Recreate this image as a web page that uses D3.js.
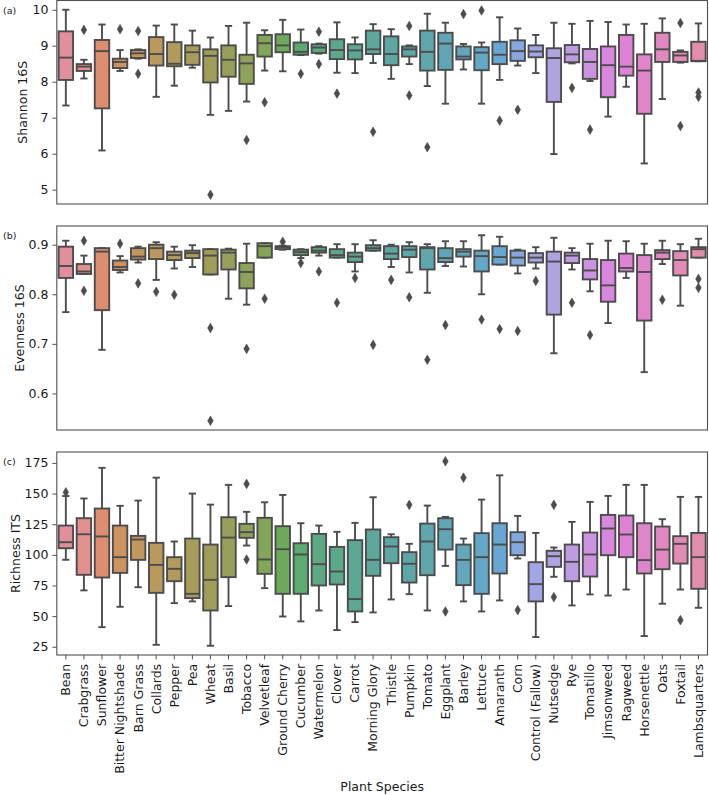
<!DOCTYPE html>
<html>
<head>
<meta charset="utf-8">
<script src="https://cdn.jsdelivr.net/npm/d3@7"></script>
<style>
  body { margin: 0; background: #fff; }
  svg text { font-family: "DejaVu Sans", sans-serif; fill: #1a1a1a; }
</style>
</head>
<body>
<svg id="chart" width="709" height="795"></svg>
<script>
const categories = ['Bean', 'Crabgrass', 'Sunflower', 'Bitter Nightshade', 'Barn Grass', 'Collards', 'Pepper', 'Pea',
  'Wheat', 'Basil', 'Tobacco', 'Velvetleaf', 'Ground Cherry', 'Cucumber', 'Watermelon', 'Clover', 'Carrot',
  'Morning Glory', 'Thistle', 'Pumpkin', 'Tomato', 'Eggplant', 'Barley', 'Lettuce', 'Amaranth', 'Corn',
  'Control (Fallow)', 'Nutsedge', 'Rye', 'Tomatillo', 'Jimsonweed', 'Ragweed', 'Horsenettle', 'Oats', 'Foxtail',
  'Lambsquarters']

// [whisker low, q1, median, q3, whisker high] per category
const shannonStats = [
  [7.34, 8.05, 8.67, 9.40, 10.0], [8.09, 8.30, 8.42, 8.49, 8.61], [6.09, 7.26, 8.85, 9.16, 9.59],
  [8.30, 8.38, 8.55, 8.64, 8.88], [8.64, 8.66, 8.79, 8.88, 8.90], [7.58, 8.45, 8.77, 9.24, 9.56],
  [7.89, 8.43, 8.50, 9.10, 9.59], [8.39, 8.47, 8.82, 9.01, 9.42], [7.08, 7.98, 8.72, 8.90, 9.23],
  [7.19, 8.14, 8.61, 9.01, 9.55], [7.45, 7.94, 8.51, 8.75, 9.64], [8.31, 8.70, 9.07, 9.30, 9.43],
  [8.29, 8.82, 9.01, 9.32, 9.72], [8.74, 8.75, 8.83, 9.09, 9.45], [8.78, 8.80, 8.95, 9.04, 9.06],
  [8.25, 8.63, 8.88, 9.18, 9.65], [8.24, 8.62, 8.87, 9.04, 9.23], [8.52, 8.77, 8.90, 9.42, 9.60],
  [8.08, 8.46, 8.77, 9.26, 9.46], [8.49, 8.70, 8.90, 8.98, 9.01], [7.88, 8.31, 8.83, 9.42, 9.89],
  [7.39, 8.33, 9.06, 9.36, 9.64], [8.34, 8.62, 8.70, 8.98, 9.05], [7.39, 8.32, 8.81, 8.96, 9.09],
  [8.05, 8.49, 8.75, 9.11, 9.79], [8.45, 8.58, 8.85, 9.15, 9.48], [8.24, 8.68, 8.84, 9.01, 9.30],
  [5.99, 7.44, 8.66, 8.93, 9.64], [8.51, 8.54, 8.76, 9.02, 9.61], [8.02, 8.08, 8.55, 8.91, 9.69],
  [7.03, 7.57, 8.46, 8.98, 9.66], [7.86, 8.17, 8.42, 9.30, 9.59], [5.73, 7.11, 8.31, 8.76, 9.61],
  [7.52, 8.55, 8.90, 9.36, 9.76], [8.53, 8.55, 8.73, 8.83, 8.87], [8.57, 8.57, 8.58, 9.11, 9.62]
]
const shannonOutliers = [
  [], [9.44], [], [9.46], [9.41, 8.22], [], [], [], [4.86], [], [6.38], [7.43], [], [8.22], [9.39, 8.49],
  [7.67], [], [6.61], [], [9.55, 7.62], [6.18], [], [9.88], [9.98], [6.92], [7.22], [], [], [7.83], [6.67],
  [], [], [], [], [9.63, 6.77], [7.70, 7.58]
]

const evennessStats = [
  [0.764, 0.833, 0.857, 0.896, 0.908], [0.841, 0.841, 0.846, 0.861, 0.878], [0.688, 0.768, 0.886, 0.893, 0.893],
  [0.844, 0.849, 0.855, 0.868, 0.877], [0.864, 0.870, 0.876, 0.893, 0.896], [0.829, 0.871, 0.893, 0.900, 0.905],
  [0.852, 0.869, 0.879, 0.886, 0.896], [0.855, 0.873, 0.883, 0.888, 0.899], [0.840, 0.840, 0.878, 0.891, 0.891],
  [0.791, 0.850, 0.884, 0.890, 0.892], [0.779, 0.812, 0.845, 0.863, 0.902], [0.874, 0.874, 0.897, 0.903, 0.903],
  [0.890, 0.891, 0.895, 0.897, 0.898], [0.873, 0.879, 0.885, 0.890, 0.891], [0.878, 0.884, 0.888, 0.895, 0.897],
  [0.874, 0.874, 0.879, 0.891, 0.901], [0.846, 0.865, 0.876, 0.884, 0.901], [0.888, 0.888, 0.893, 0.899, 0.909],
  [0.855, 0.871, 0.882, 0.897, 0.900], [0.844, 0.875, 0.890, 0.897, 0.905], [0.803, 0.850, 0.893, 0.895, 0.901],
  [0.857, 0.865, 0.873, 0.893, 0.907], [0.856, 0.876, 0.886, 0.891, 0.907], [0.800, 0.846, 0.877, 0.888, 0.919],
  [0.860, 0.860, 0.875, 0.897, 0.916], [0.842, 0.858, 0.874, 0.888, 0.890], [0.852, 0.864, 0.874, 0.883, 0.895],
  [0.681, 0.759, 0.866, 0.886, 0.914], [0.850, 0.863, 0.878, 0.884, 0.893], [0.806, 0.830, 0.848, 0.871, 0.902],
  [0.742, 0.785, 0.818, 0.869, 0.908], [0.833, 0.846, 0.853, 0.882, 0.907], [0.643, 0.747, 0.845, 0.879, 0.902],
  [0.861, 0.871, 0.884, 0.889, 0.908], [0.777, 0.838, 0.869, 0.887, 0.901], [0.874, 0.874, 0.891, 0.895, 0.912]
]
const evennessOutliers = [
  [], [0.908, 0.807], [], [0.902], [0.822], [0.805], [0.799], [], [0.732, 0.545], [], [0.690], [0.791],
  [0.906], [0.863], [0.846], [0.783], [0.833], [0.698], [0.829], [0.794], [0.668], [0.738], [], [0.749],
  [0.730], [0.726], [0.827], [], [0.783], [0.718], [], [], [], [0.789], [], [0.831, 0.813]
]

const richnessStats = [
  [96, 105.4, 110.3, 123.9, 148], [71, 83.7, 116.8, 129.9, 146], [41, 81.5, 115, 137.8, 171],
  [57.6, 85.3, 98.1, 123.9, 140], [73.6, 95.9, 112.5, 115.5, 144.3], [26.6, 69, 91.8, 109.8, 163],
  [60.6, 78.5, 88.6, 98.1, 110.9], [62, 64.7, 68.2, 113.3, 150], [25.8, 54.6, 79.6, 108.4, 141],
  [58.2, 81.8, 114.1, 130.7, 157.1], [107.6, 113.9, 118.5, 125.3, 135.1], [72.8, 84.5, 96.2, 130.2, 142.9],
  [49.7, 68.2, 104.6, 123.4, 148.9], [45.7, 68.2, 100.3, 109.5, 125.8], [54.6, 75, 92.4, 117.1, 123.9],
  [38.6, 75.8, 86.4, 106.5, 118.8], [45.1, 53.8, 63.9, 112, 126.1], [53, 82.9, 95.9, 120.7, 147],
  [63.6, 93.2, 106.8, 114.4, 116.8], [67.9, 77.4, 92.7, 102.2, 109], [54.6, 83.4, 110.9, 125.5, 140.2],
  [91, 104.3, 120.9, 129.9, 131], [62, 75.3, 95.9, 108.4, 113.3], [53.8, 68.2, 98.1, 117.7, 145.1],
  [62.8, 84.8, 108.4, 125.8, 164.9], [97, 99.7, 110.3, 118.5, 131.8], [32.9, 62, 76.1, 94, 117.9],
  [82.1, 90.2, 98.9, 103.3, 106], [58.7, 78.5, 94.3, 108.4, 126.9], [67.7, 82.3, 100.3, 118.2, 143.2],
  [66.8, 99.7, 121.5, 132.6, 148.1], [71.7, 98.1, 116.6, 132.1, 157.1], [33.7, 84.8, 95.7, 125.8, 157.1],
  [60.1, 88.3, 104.3, 123.1, 129.1], [71.7, 92.9, 109, 115.2, 147.3], [56.8, 72.3, 98.1, 117.9, 147.3]
]
const richnessOutliers = [
  [151], [], [], [], [], [], [], [], [], [], [157.9, 96.2], [], [], [], [], [], [], [], [], [140.8], [],
  [176.4, 53.8], [163], [], [], [54.9], [], [140.8, 65.5], [], [], [], [], [], [], [46.7], []
]

const shannonTicks = [5, 6, 7, 8, 9, 10]
const evennessTicks = [0.6, 0.7, 0.8, 0.9]
const richnessTicks = [25, 50, 75, 100, 125, 150, 175]

const svg = d3.select('#chart')
const left = 56.8
const right = 707.5
const fontSize = 12.5
const tickLen = 4.4
const frameColor = '#505050'

// seaborn husl palette, desaturated, then lifted a bit towards light gray
const M = [[3.2406, -1.5372, -0.4986], [-0.9689, 1.8758, 0.0415], [0.0557, -0.2040, 1.0570]]
const maxChroma = (L, H) => {
	const hrad = H / 180 * Math.PI
	const sinH = Math.sin(hrad), cosH = Math.cos(hrad)
	const sub1 = Math.pow(L + 16, 3) / 1560896
	const sub2 = sub1 > 0.008856 ? sub1 : L / 903.3
	let result = Infinity
	M.forEach(([m1, m2, m3]) => {
		const top = (0.99915 * m1 + 1.05122 * m2 + 1.14460 * m3) * sub2
		const rbottom = 0.86330 * m3 - 0.17266 * m2
		const lbottom = 0.12949 * m3 - 0.38848 * m1
		const bottom = (rbottom * sinH + lbottom * cosH) * sub2
		;[0, 1].forEach(t => {
			const C = L * (top - 1.05122 * t) / (bottom + 0.17266 * sinH * t)
			if (C > 0 && C < result) result = C
		})
	})
	return result
}
const huslToRgb = (H, S, L) => {
	const C = maxChroma(L, H) / 100 * S
	const hrad = H / 180 * Math.PI
	const U = Math.cos(hrad) * C, V = Math.sin(hrad) * C
	const fInv = t => Math.pow(t, 3) > 0.008856 ? Math.pow(t, 3) : (116 * t - 16) / 903.3
	const Y = fInv((L + 16) / 116)
	const varU = U / (13 * L) + 0.19784
	const varV = V / (13 * L) + 0.46834
	const X = 0 - (9 * Y * varU) / ((varU - 4) * varV - varU * varV)
	const Z = (9 * Y - 15 * varV * Y - varV * X) / (3 * varV)
	const c = M.map(r => {
		let v = r[0] * X + r[1] * Y + r[2] * Z
		v = v <= 0.0031308 ? 12.92 * v : 1.055 * Math.pow(v, 1 / 2.4) - 0.055
		return Math.min(1, Math.max(0, v)) * 255
	})
	return d3.rgb(c[0], c[1], c[2])
}
const n = categories.length
const lift = d3.interpolateRgb.gamma(1)
const palette = d3.range(n).map(i => {
	const h = ((i / n + 0.01) % 1) * 359
	const hsl = d3.hsl(huslToRgb(h, 0.9 * 99, 0.65 * 99))
	hsl.s *= 0.75
	return d3.color(lift(hsl.formatHex(), '#cdcdcd')(0.18)).formatHex()
})
const gray = '#4c4c4c'
const color = d3.scaleOrdinal().domain(categories).range(palette)

const x = d3.scaleBand().domain(categories).range([left, right]).padding(0)
const boxW = x.bandwidth() * 0.8
const capW = boxW / 2

const panels = [
	{ key: '(a)', label: 'Shannon 16S', stats: shannonStats, out: shannonOutliers, ticks: shannonTicks, top: 0.5, bottom: 204, fmt: d3.format('d') },
	{ key: '(b)', label: 'Evenness 16S', stats: evennessStats, out: evennessOutliers, ticks: evennessTicks, top: 226, bottom: 430, fmt: d3.format('.1f') },
	{ key: '(c)', label: 'Richness ITS', stats: richnessStats, out: richnessOutliers, ticks: richnessTicks, top: 452, bottom: 655, fmt: d3.format('d') }
]

const diamond = 'M0,-4.8L2.8,0L0,4.8L-2.8,0Z'

panels.forEach((p, pi) => {
	const all = p.stats.flat().concat(p.out.flat())
	const lo = d3.min(all), hi = d3.max(all)
	const pad = (hi - lo) * 0.05
	const y = d3.scaleLinear().domain([lo - pad, hi + pad]).range([p.bottom, p.top])

	const g = svg.append('g').attr('class', 'panel')

	const boxes = g.selectAll('g.box')
		.data(categories)
		.enter()
		.append('g')
			.attr('class', 'box')
			.attr('transform', d => `translate(${x(d) + x.bandwidth() / 2}, 0)`)

	// whiskers
	boxes.append('line')
		.attr('x1', 0).attr('x2', 0)
		.attr('y1', (d, i) => y(p.stats[i][0])).attr('y2', (d, i) => y(p.stats[i][1]))
	boxes.append('line')
		.attr('x1', 0).attr('x2', 0)
		.attr('y1', (d, i) => y(p.stats[i][3])).attr('y2', (d, i) => y(p.stats[i][4]))
	// caps
	boxes.append('line')
		.attr('x1', -capW / 2).attr('x2', capW / 2)
		.attr('y1', (d, i) => y(p.stats[i][0])).attr('y2', (d, i) => y(p.stats[i][0]))
	boxes.append('line')
		.attr('x1', -capW / 2).attr('x2', capW / 2)
		.attr('y1', (d, i) => y(p.stats[i][4])).attr('y2', (d, i) => y(p.stats[i][4]))

	boxes.append('rect')
		.attr('x', -boxW / 2)
		.attr('width', boxW)
		.attr('y', (d, i) => y(p.stats[i][3]))
		.attr('height', (d, i) => y(p.stats[i][1]) - y(p.stats[i][3]))
		.attr('fill', d => color(d))

	boxes.append('line')
		.attr('x1', -boxW / 2).attr('x2', boxW / 2)
		.attr('y1', (d, i) => y(p.stats[i][2])).attr('y2', (d, i) => y(p.stats[i][2]))

	boxes.selectAll('line, rect')
		.attr('stroke', gray)
		.attr('stroke-width', 1.9)

	boxes.selectAll('path.flier')
		.data((d, i) => p.out[i])
		.enter()
		.append('path')
			.attr('class', 'flier')
			.attr('d', diamond)
			.attr('transform', v => `translate(0, ${y(v)})`)
			.attr('fill', gray)
			.attr('stroke', gray)
			.attr('stroke-width', 0.6)

	// frame
	g.append('rect')
		.attr('x', left).attr('y', p.top)
		.attr('width', right - left).attr('height', p.bottom - p.top)
		.attr('fill', 'none')
		.attr('stroke', frameColor)
		.attr('stroke-width', 1.1)

	const yAxis = g.append('g')
		.attr('transform', `translate(${left}, 0)`)
		.call(d3.axisLeft(y).tickValues(p.ticks).tickFormat(p.fmt).tickSize(tickLen).tickPadding(4))
	yAxis.select('path.domain').remove()
	yAxis.selectAll('.tick line').attr('stroke', frameColor)
	yAxis.selectAll('.tick text')
		.attr('font-size', fontSize)
		.attr('font-family', 'DejaVu Sans')
		.attr('fill', '#1a1a1a')

	const bb = yAxis.node().getBBox()
	g.append('text')
		.attr('transform', `translate(${left + bb.x - 5}, ${(p.top + p.bottom) / 2}) rotate(-90)`)
		.attr('text-anchor', 'middle')
		.attr('font-size', fontSize)
		.text(p.label)

	g.append('text')
		.attr('x', 3)
		.attr('y', p.top + 12.5 + (pi === 0 ? 0.5 : 0))
		.attr('font-size', 9.5)
		.text(p.key)

	if (pi === 2) {
		const xAxis = g.append('g')
			.attr('transform', `translate(0, ${p.bottom})`)
			.call(d3.axisBottom(x).tickSize(tickLen).tickPadding(4))
		xAxis.select('path.domain').remove()
		xAxis.selectAll('.tick line').attr('stroke', frameColor)
		xAxis.selectAll('.tick text')
			.attr('font-size', fontSize)
			.attr('font-family', 'DejaVu Sans')
			.attr('fill', '#1a1a1a')
			.attr('text-anchor', 'end')
			.attr('dy', '0.35em')
			.attr('transform', `translate(0, ${tickLen + 4.5}) rotate(-90)`)
			.attr('x', 0)
			.attr('y', 0)
	}
})

svg.append('text')
	.attr('x', (left + right) / 2)
	.attr('y', 791)
	.attr('text-anchor', 'middle')
	.attr('font-size', fontSize)
	.text('Plant Species')
</script>
</body>
</html>
